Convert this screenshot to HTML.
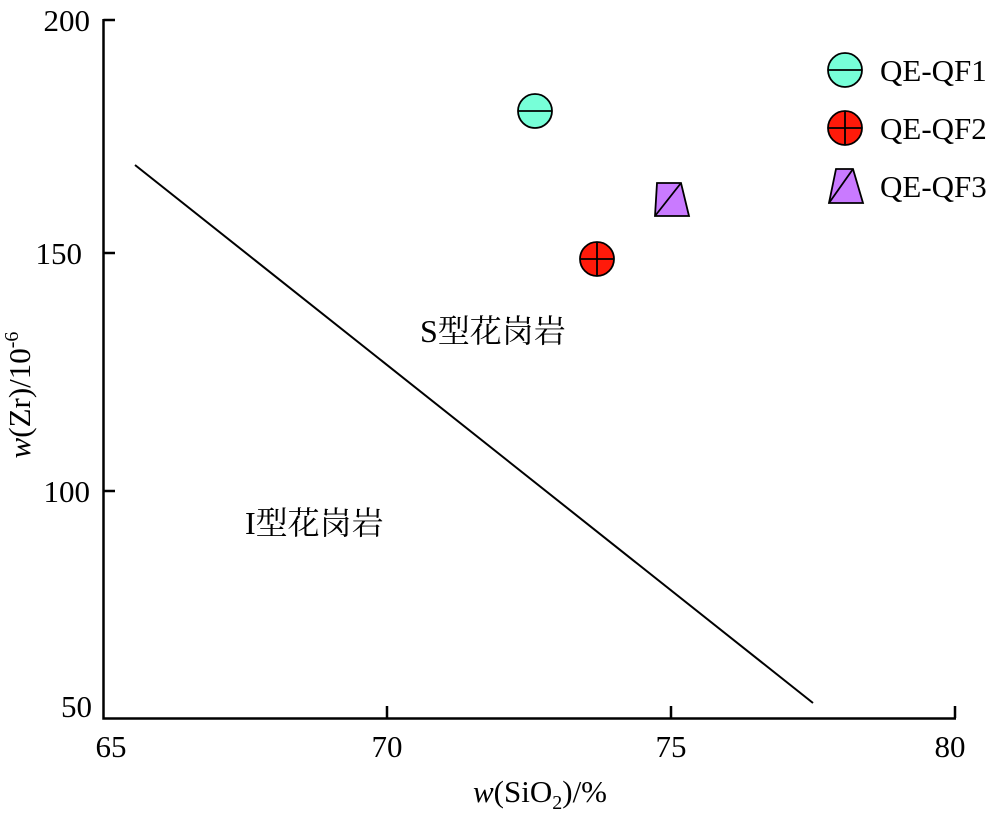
<!DOCTYPE html>
<html><head><meta charset="utf-8"><style>body{margin:0;background:#fff}</style></head><body>
<svg width="1000" height="810" xmlns="http://www.w3.org/2000/svg" font-family="Liberation Serif, Noto Serif CJK SC, serif">
<g stroke="#000" stroke-width="2.5" fill="none">
<path d="M103.5 19 V718.5 H956"/>
<path d="M103.5 20 H115 M103.5 253 H115 M103.5 491 H115"/>
<path d="M387 718 V706 M671 718 V706 M955 718 V706"/>
</g>
<line x1="135" y1="165" x2="813" y2="703" stroke="#000" stroke-width="2"/>
<g font-size="31" fill="#000" text-anchor="end">
<text x="90" y="31">200</text>
<text x="82" y="264">150</text>
<text x="90" y="502">100</text>
<text x="92" y="717">50</text>
</g>
<g font-size="31" fill="#000" text-anchor="middle">
<text x="111" y="757">65</text>
<text x="387" y="757">70</text>
<text x="671" y="757">75</text>
<text x="950" y="757">80</text>
<text x="540" y="802"><tspan font-style="italic">w</tspan>(SiO<tspan font-size="20" dy="7">2</tspan><tspan dy="-7">)/%</tspan></text>
</g>
<text transform="translate(30,395) rotate(-90)" font-size="31" text-anchor="middle"><tspan font-style="italic">w</tspan>(Zr)/10<tspan font-size="20" dy="-12">-6</tspan></text>
<text x="420" y="342" font-size="32">S型花岗岩</text>
<text x="245" y="534" font-size="32">I型花岗岩</text>
<g stroke="#000" stroke-width="1.8">
<circle cx="535" cy="111" r="17" fill="#77ffd8"/><line x1="518" y1="111" x2="552" y2="111"/>
<circle cx="597" cy="259" r="17" fill="#ff1a0a"/><line x1="580" y1="259" x2="614" y2="259"/><line x1="597" y1="242" x2="597" y2="276"/>
<polygon points="657,183 681,183 689,216 655,216" fill="#c97aff"/><line x1="655" y1="216" x2="681" y2="183"/>
<circle cx="845" cy="70" r="17" fill="#77ffd8"/><line x1="828" y1="70" x2="862" y2="70"/>
<circle cx="845" cy="128" r="17" fill="#ff1a0a"/><line x1="828" y1="128" x2="862" y2="128"/><line x1="845" y1="111" x2="845" y2="145"/>
<polygon points="836,169 853,169 863,203 829,203" fill="#c97aff"/><line x1="829" y1="203" x2="853" y2="169"/>
</g>
<g font-size="31" fill="#000">
<text x="880" y="81">QE-QF1</text>
<text x="880" y="139">QE-QF2</text>
<text x="880" y="197">QE-QF3</text>
</g>
</svg>
</body></html>
